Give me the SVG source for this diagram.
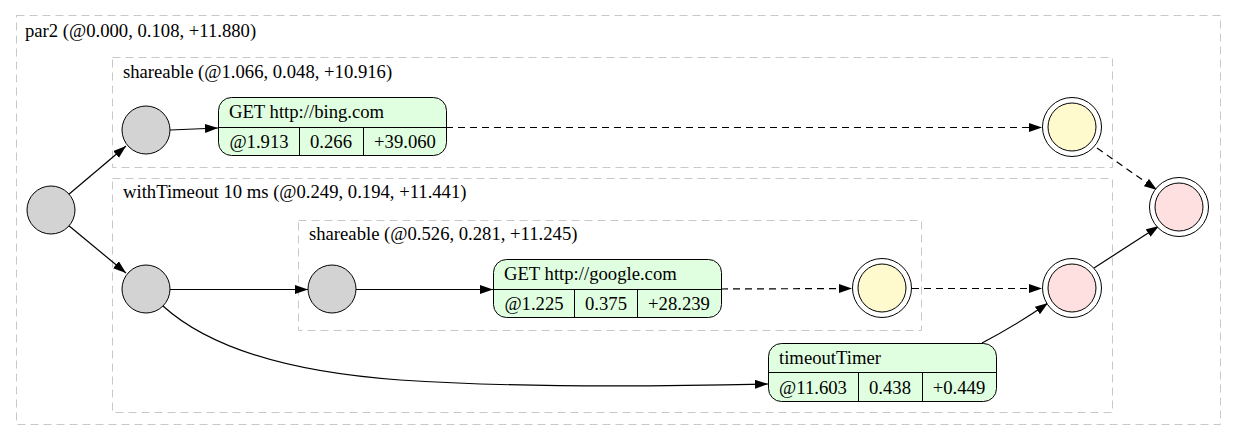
<svg xmlns="http://www.w3.org/2000/svg" width="1235" height="440" viewBox="0 0 1235 440">
<style>
.cl{fill:none;stroke:#c8c8c8;stroke-width:1;stroke-dasharray:8,5}
text{font-family:"Liberation Serif","Times New Roman",serif;font-size:18.67px;fill:#000}
.mid{text-anchor:middle}
.c{fill:#d3d3d3;stroke:#000;stroke-width:1}
.rec{fill:#e0ffe0;stroke:#000;stroke-width:1}
.ln{stroke:#000;stroke-width:1}
.y{fill:#fffacd;stroke:#000}
.p{fill:#ffe0e0;stroke:#000}
.o{fill:#fff;stroke:#000}
.e{fill:none;stroke:#000;stroke-width:1.2;marker-end:url(#ah)}
.d{stroke-dasharray:7,5}
</style>
<defs>
<marker id="ah" markerUnits="userSpaceOnUse" markerWidth="14" markerHeight="10" refX="13" refY="4.5" orient="auto">
<path d="M0,0 L13,4.5 L0,9 z" fill="#000"/>
</marker>
</defs>
<rect width="1235" height="440" fill="#fff"/>
<g id="clusters">
<rect class="cl" x="16.5" y="15.5" width="1204" height="409"/>
<text x="25" y="37">par2 (@0.000, 0.108, +11.880)</text>
<rect class="cl" x="112.5" y="57.5" width="1000" height="110"/>
<text x="123" y="78">shareable (@1.066, 0.048, +10.916)</text>
<rect class="cl" x="112.5" y="178.5" width="1000" height="234"/>
<text x="123" y="198">withTimeout 10 ms (@0.249, 0.194, +11.441)</text>
<rect class="cl" x="298.5" y="220.5" width="623" height="110"/>
<text x="309" y="240">shareable (@0.526, 0.281, +11.245)</text>
</g>
<g id="connectors">
<path class="e" d="M68,195 L126,146"/>
<path class="e" d="M68,225 L126,273"/>
<path class="e" d="M170,130 L218,128"/>
<path class="e d" d="M446,127.5 L1042,127.5"/>
<path class="e d" d="M1097,148 L1157,190"/>
<path class="e" d="M170,289.5 L308,289.5"/>
<path class="e" d="M356,289.5 L493,289.5"/>
<path class="e d" d="M721,289 L852,288.5"/>
<path class="e d" d="M912,288.5 L1042,288.5"/>
<path class="e" d="M163,306 C195,335 260,370 400,380 C520,388 680,386 768,384"/>
<path class="e" d="M982,343 C1005,331 1028,317 1048,303"/>
<path class="e" d="M1094,268 L1159,226"/>
</g>
<g id="start"><circle class="c" cx="51" cy="210" r="24"/></g>
<g id="nA"><circle class="c" cx="146" cy="130" r="24"/></g>
<g id="nB"><circle class="c" cx="146" cy="289" r="24"/></g>
<g id="nC"><circle class="c" cx="332" cy="289" r="24"/></g>
<g id="bing">
<rect class="rec" x="218.5" y="97.5" width="228" height="58" rx="13"/>
<path class="ln" d="M218.5,127.5 H446.5 M299.5,127.5 V155.5 M363.5,127.5 V155.5"/>
<text x="229" y="118">GET http://bing.com</text>
<text class="mid" x="259" y="148">@1.913</text>
<text class="mid" x="331" y="148">0.266</text>
<text class="mid" x="405" y="148">+39.060</text>
</g>
<g id="google">
<rect class="rec" x="493.5" y="259.5" width="228" height="58" rx="13"/>
<path class="ln" d="M493.5,289.5 H721.5 M574.5,289.5 V317.5 M637.5,289.5 V317.5"/>
<text x="504" y="280">GET http://google.com</text>
<text class="mid" x="534" y="310">@1.225</text>
<text class="mid" x="606" y="310">0.375</text>
<text class="mid" x="679" y="310">+28.239</text>
</g>
<g id="timer">
<rect class="rec" x="768.5" y="343.5" width="228" height="58" rx="13"/>
<path class="ln" d="M768.5,372.5 H996.5 M858.5,372.5 V401.5 M922.5,372.5 V401.5"/>
<text x="779" y="364">timeoutTimer</text>
<text class="mid" x="813" y="394">@11.603</text>
<text class="mid" x="890" y="394">0.438</text>
<text class="mid" x="959" y="394">+0.449</text>
</g>
<g id="yellow1"><circle class="o" cx="1072" cy="127" r="29.5"/><circle class="y" cx="1072" cy="127" r="24"/></g>
<g id="yellow2"><circle class="o" cx="882" cy="288" r="29.5"/><circle class="y" cx="882" cy="288" r="24"/></g>
<g id="pink2"><circle class="o" cx="1072" cy="288" r="29.5"/><circle class="p" cx="1072" cy="288" r="24"/></g>
<g id="pinkEnd"><circle class="o" cx="1179" cy="207" r="29.5"/><circle class="p" cx="1179" cy="207" r="24"/></g>
</svg>
